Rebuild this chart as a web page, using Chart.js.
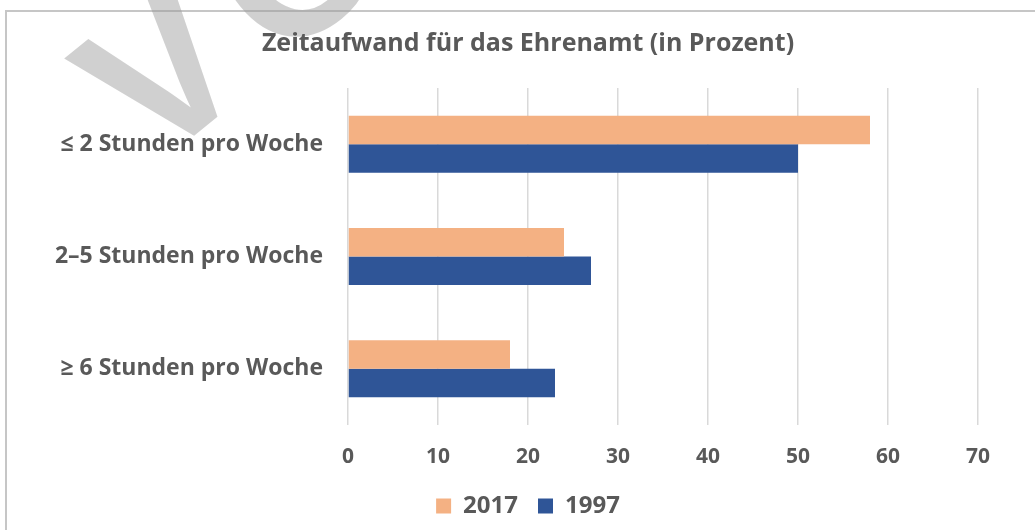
<!DOCTYPE html>
<html>
<head>
<meta charset="utf-8">
<script src="https://cdn.jsdelivr.net/npm/chart.js@4"></script>
<style>
  html, body { margin: 0; padding: 0; background: #fff; }
  #frame {
    position: absolute; left: 5px; top: 10px; width: 1100px; height: 600px;
    border-top: 2px solid #c6c6c6; border-left: 2px solid #c6c6c6;
  }
  #wrap { position: absolute; left: 0; top: 0; width: 1035px; height: 530px; }
</style>
</head>
<body>
<div id="frame"></div>
<div id="wrap"><canvas id="zeitChart"></canvas></div>
<script>
// Kategorien (von oben nach unten)
var categories = ['≤ 2 Stunden pro Woche', '2–5 Stunden pro Woche', '≥ 6 Stunden pro Woche'];
// Werte in Prozent
var values2017 = [58, 24, 18];
var values1997 = [50, 27, 23];
// Achsenbeschriftung
var xTicks = [0, 10, 20, 30, 40, 50, 60, 70];

var textColor = '#595959';
var fontFamily = '"Open Sans", "Noto Sans", sans-serif';

// grauer Vorschau-Stempel im Hintergrund
var watermark = {
    id: 'watermark',
    beforeDraw: function (chart) {
        var ctx = chart.ctx;
        ctx.save();
        ctx.font = 'bold 206px "Liberation Sans", Arial, sans-serif';
        ctx.letterSpacing = '25px';
        ctx.fillStyle = 'rgba(150,150,150,0.45)';
        var ang = -39 * Math.PI / 180;
        var half = ctx.measureText('V').width / 2 - 12;
        ctx.translate(206 - half * Math.cos(ang), 126 - half * Math.sin(ang));
        ctx.rotate(ang);
        ctx.textBaseline = 'alphabetic';
        ctx.fillText('VORSCHAU', 0, 0);
        ctx.restore();
    }
};

// y-Beschriftungen sollen links nicht abgeschnitten werden
var labelRoom = {
    id: 'labelRoom',
    afterLayout: function (chart) {
        chart.scales.y.left = 0;
    }
};

var ctx = document.getElementById('zeitChart').getContext('2d');

var zeitChart = new Chart(ctx, {
    type: 'bar',
    data: {
        labels: categories,
        datasets: [{
            label: '2017',
            data: values2017,
            backgroundColor: '#F4B183',
            borderWidth: 0
        }, {
            label: '1997',
            data: values1997,
            backgroundColor: '#2F5597',
            borderWidth: 0
        }]
    },
    options: {
        indexAxis: 'y',
        responsive: true,
        maintainAspectRatio: false,
        animation: false,
        layout: {
            padding: { top: 0, left: 78, right: 57, bottom: 2 }
        },
        datasets: {
            bar: { categoryPercentage: 0.507, barPercentage: 1.0 }
        },
        scales: {
            x: {
                min: 0,
                max: 70,
                afterBuildTicks: function (scale) {
                    scale.ticks = xTicks.map(function (v) { return { value: v }; });
                },
                afterFit: function (scale) { scale.height = 49; },
                grid: { color: '#d9d9d9', lineWidth: 1.5, drawTicks: false },
                border: { display: false },
                ticks: {
                    color: textColor,
                    padding: 19,
                    font: { family: fontFamily, size: 21, weight: 'bold' }
                }
            },
            y: {
                afterFit: function (scale) { scale.width = 348 - 78; },
                grid: { display: false, drawTicks: false },
                border: { display: false },
                ticks: {
                    color: textColor,
                    padding: 25,
                    font: { family: fontFamily, size: 23, weight: 'bold' }
                }
            }
        },
        plugins: {
            title: {
                display: true,
                text: 'Zeitaufwand für das Ehrenamt (in Prozent)',
                color: textColor,
                font: { family: fontFamily, size: 25, weight: 'bold' },
                padding: { top: 29, bottom: 29 }
            },
            legend: {
                position: 'bottom',
                labels: {
                    color: textColor,
                    boxWidth: 15,
                    boxHeight: 15,
                    padding: 20,
                    font: { family: fontFamily, size: 24, weight: 'bold' }
                }
            },
            tooltip: { enabled: false }
        }
    },
    plugins: [watermark, labelRoom]
});
</script>
</body>
</html>
